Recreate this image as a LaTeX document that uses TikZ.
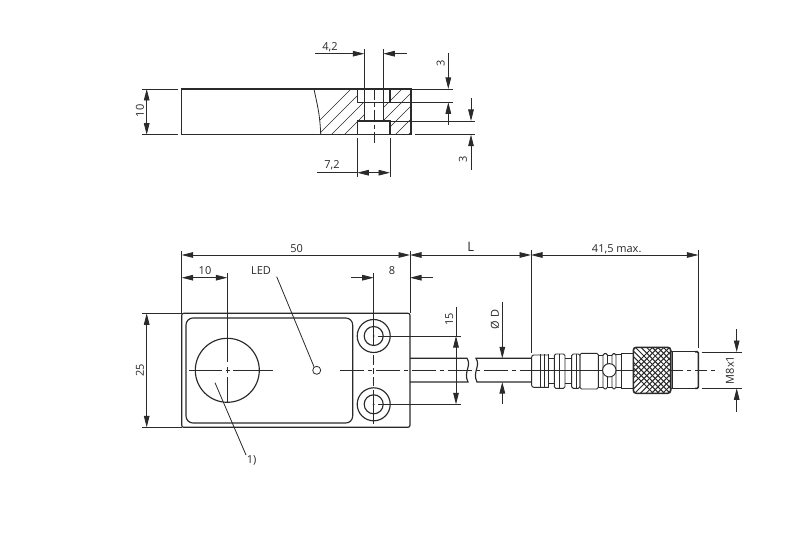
\documentclass[tikz,border=0pt]{standalone}
\usepackage{fontspec}
\setmainfont{Open Sans}
\usetikzlibrary{arrows.meta}
\definecolor{ink}{HTML}{2A2A2A}
\tikzset{
  outline/.style={draw=ink,line width=1.15pt},
  conn/.style={draw=ink,line width=0.95pt},
  thin line/.style={draw=ink,line width=0.8pt},
  centre/.style={draw=ink,line width=0.8pt,dash pattern=on 24pt off 4pt on 4pt off 4pt},
  hatchline/.style={draw=ink,line width=0.7pt},
  tip/.style={draw=ink,line width=0.8pt,-{Triangle[length=11.5pt,width=5.6pt,color=ink]},shorten >=0pt},
  dimtext/.style={text=ink,font=\fontsize{11}{13}\selectfont,inner sep=0pt},
  vtext/.style={dimtext,rotate=90}
}
\begin{document}
\begin{tikzpicture}[x=1pt,y=-1pt]
\useasboundingbox (0,0) rectangle (800,548);
\fill[white] (0,0) rectangle (800,548);

% ---------- top view: section ----------
\begin{scope}
  \clip (314,89) .. controls (316,100) and (320,112) .. (320.7,134.7) -- (357.3,134.7) -- (357.3,121) -- (364.3,121) -- (364.3,102.3) -- (357.3,102.3) -- (357.3,89) -- cycle;
  \foreach \k in {0,...,9}{\draw[hatchline] (300+13*\k,140) -- ++(60,-60);}
\end{scope}
\begin{scope}
  \clip (390,89) -- (411,89) -- (411,134.7) -- (390,134.7) -- (390,121) -- (383.3,121) -- (383.3,102.3) -- (390,102.3) -- cycle;
  \foreach \k in {0,...,9}{\draw[hatchline] (325+13*\k,140) -- ++(60,-60);}
\end{scope}
\draw[outline] (181.7,89) rectangle (411,134.7);
\draw[thin line] (314,89) .. controls (316,100) and (320,112) .. (320.7,134.7);
\draw[outline] (357.3,89) -- (357.3,102.3) -- (390,102.3) -- (390,89);
\draw[outline] (357.3,134.7) -- (357.3,121) -- (390,121) -- (390,134.7);
\draw[outline] (364.3,102.3) -- (364.3,121) (383.3,102.3) -- (383.3,121);
\draw[centre,dash pattern=on 12pt off 3pt on 4pt off 3pt] (374,88) -- (374,142.7);
% dimension 4,2
\draw[thin line] (364.3,49) -- (364.3,102.3) (383.3,49) -- (383.3,102.3);
\draw[tip] (315,53.7) -- (364.3,53.7);
\draw[tip] (406.7,53.7) -- (383.3,53.7);
\node[dimtext] (t42) at (330,47.5) {4,2};
% dimension 7,2
\draw[thin line] (357.3,138) -- (357.3,177) (390,138) -- (390,177);
\draw[thin line] (317,172.7) -- (357.3,172.7);
\draw[tip] (374,172.7) -- (357.3,172.7);
\draw[tip] (374,172.7) -- (390,172.7);
\node[dimtext] (t72) at (332,165.7) {7,2};
% dimension 10
\draw[thin line] (142,89) -- (177.7,89) (142,134.7) -- (177.7,134.7);
\draw[tip] (146.7,112) -- (146.7,89);
\draw[tip] (146.7,112) -- (146.7,134.7);
\node[vtext] (t10v) at (140,111) {10};
% dimensions 3
\draw[thin line] (411,89) -- (452.7,89) (383.3,102.3) -- (452.7,102.3) (383.3,121) -- (475,121) (415,134.7) -- (475,134.7);
\draw[tip] (448.3,53) -- (448.3,89);
\draw[tip] (448.3,125) -- (448.3,102.3);
\draw[tip] (471,98) -- (471,121);
\draw[tip] (471,170) -- (471,134.7);
\node[vtext] (t3a) at (440.7,63) {3};
\node[vtext] (t3b) at (463,159) {3};

% ---------- front view ----------
\draw[outline,rounded corners=2pt] (181.7,313.3) rectangle (410,427.3);
\draw[outline,rounded corners=7pt] (186,318) rectangle (352.7,423);
\draw[outline] (227.3,370.3) circle (32);
\draw[thin line] (316.7,370.3) circle (4);
\foreach \yy in {336,404.3}{
  \draw[outline] (373.7,\yy) circle (16.5);
  \draw[outline] (373.7,\yy) circle (9.5);
  \fill[ink] (373.7,\yy) circle (1);
}
% centre lines
\draw[thin line] (189,370.3) -- (222,370.3) (225.5,370.3) -- (229.5,370.3) (233,370.3) -- (273,370.3);
\draw[centre] (340,370.3) -- (531,370.3);
\draw[thin line] (227.3,273) -- (227.3,362) (227.3,367) -- (227.3,373) (227.3,377) -- (227.3,402);
\draw[thin line] (373.7,273) -- (373.7,345) (373.7,355) -- (373.7,365) (373.7,368) -- (373.7,374) (373.7,377) -- (373.7,386) (373.7,390) -- (373.7,424);
% cable
\draw[outline] (410,358.3) -- (467,358.3) .. controls (472,366) and (463,372) .. (468,382) -- (410,382);
\draw[outline] (531.7,358.3) -- (476,358.3) .. controls (481,366) and (472,372) .. (477,382) -- (531.7,382);
% leaders
\draw[thin line] (276.7,276.7) -- (314,366.7);
\node[dimtext] (led) at (261,270.7) {LED};
\draw[thin line] (215,382.7) -- (246,455);
\node[dimtext] (one) at (251.7,460.7) {1)};
% dimension 50 / L / 41,5
\draw[thin line] (181.7,251) -- (181.7,313.3) (410,251) -- (410,313.3);
\draw[thin line] (531,250) -- (531,352.7) (698.3,250) -- (698.3,348);
\draw[tip] (296,255) -- (181.7,255);
\draw[tip] (296,255) -- (410,255);
\draw[tip] (470,255) -- (410,255);
\draw[tip] (470,255) -- (531,255);
\draw[tip] (615,255) -- (531,255);
\draw[tip] (615,255) -- (698.3,255);
\node[dimtext] (t50) at (296.7,248.3) {50};
\node[dimtext,font=\fontsize{13}{15}\selectfont] (tL) at (470.7,246.7) {L};
\node[dimtext] (t415) at (616.7,249) {41,5 max.};
% dimension 10 / 8
\draw[tip] (205,277.7) -- (181.7,277.7);
\draw[tip] (205,277.7) -- (227.3,277.7);
\node[dimtext] (t10h) at (205,270.7) {10};
\draw[tip] (350.7,277.7) -- (373.7,277.7);
\draw[tip] (433.3,277.7) -- (410,277.7);
\node[dimtext] (t8) at (392,270.7) {8};
% dimension 25
\draw[thin line] (142,313.3) -- (181.7,313.3) (142,427.3) -- (181.7,427.3);
\draw[tip] (146.7,370) -- (146.7,313.3);
\draw[tip] (146.7,370) -- (146.7,427.3);
\node[vtext] (t25) at (140,370) {25};
% dimension 15
\draw[thin line] (378,336) -- (460.7,336) (378,404.3) -- (460.7,404.3);
\draw[tip] (456,370) -- (456,336);
\draw[tip] (456,370) -- (456,404.3);
\draw[thin line] (456,306.7) -- (456,336);
\node[vtext] (t15) at (449.3,319.3) {15};
% dimension D
\draw[tip] (502.3,301.7) -- (502.3,358.3);
\draw[tip] (502.3,404.3) -- (502.3,382);
\node[vtext] (tD) at (495,319.3) {Ø D};
% dimension M8x1
\draw[thin line] (701.7,352) -- (741.7,352) (701.7,388.3) -- (741.7,388.3);
\draw[tip] (736.7,329.3) -- (736.7,352);
\draw[tip] (736.7,411.7) -- (736.7,388.3);
\node[vtext] (tM) at (730,370) {M8x1};

% ---------- connector ----------
\draw[conn,rounded corners=2pt] (548.3,355) -- (531.7,355) -- (531.7,387.3) -- (548.3,387.3);
\draw[conn] (540,354) -- (540,388) (548.3,354) -- (548.3,388);
\draw[conn] (544,354) -- (544,388);
\draw[conn] (548.3,358) -- (554.3,358) (548.3,383.5) -- (554.3,383.5);
\draw[conn,rounded corners=1.5pt] (554.3,354) rectangle (565,388.3);
\draw[thin line] (559.5,354) -- (559.5,388.3);
\draw[conn] (565,358) -- (571.7,358) (565,383.5) -- (571.7,383.5);
\draw[conn,rounded corners=1.5pt] (571.7,354) rectangle (580,388.3);
\draw[thin line] (576,354) -- (576,388.3);
\draw[conn,rounded corners=1.5pt] (580,353.3) rectangle (598.3,389);
\draw[conn] (598.3,355) -- (603,355) (598.3,387) -- (603,387);
\draw[conn,rounded corners=1.5pt] (603,353.6) rectangle (607.5,388.8);
\draw[conn,rounded corners=1.5pt] (612,353.6) rectangle (616,388.8);
\draw[conn] (607.5,355) -- (612,355) (607.5,387) -- (612,387);
\draw[conn] (616,354.5) -- (621.7,354.5) (616,387.5) -- (621.7,387.5);
\draw[conn] (621.7,353.3) -- (633.3,353.3) (621.7,388.7) -- (633.3,388.7) (621.7,353.3) -- (621.7,388.7);
\draw[thin line] (531.7,370.3) -- (633,370.3);
\fill[white] (609.3,370.3) circle (6.7);
\draw[conn] (609.3,370.3) circle (6.7);
% knurl
\begin{scope}
\clip[rounded corners=3pt] (633.3,347.3) rectangle (670.7,393.3);
\fill[white] (633.3,347.3) rectangle (670.7,393.3);
\foreach \k in {0,...,20}{
  \draw[draw=ink,line width=1pt] (600+5.6*\k,400) -- ++(60,-60);
  \draw[draw=ink,line width=1pt] (600+5.6*\k,340) -- ++(60,60);
}
\end{scope}
\draw[draw=ink,line width=1.6pt,rounded corners=3pt] (633.3,347.3) rectangle (670.7,393.3);
% tip
\draw[outline] (671,351.7) -- (698.3,351.7) (671,388.3) -- (698.3,388.3);
\draw[conn] (672.5,351.7) -- (672.5,388.3);
\draw[draw=ink,line width=1.6pt,rounded corners=1pt] (695,351.7) -- (698.3,351.7) -- (698.3,388.3) -- (695,388.3);
\draw[thin line,dash pattern=on 12pt off 4pt on 4pt off 4pt] (671,370.3) -- (715,370.3);
\end{tikzpicture}
\end{document}
